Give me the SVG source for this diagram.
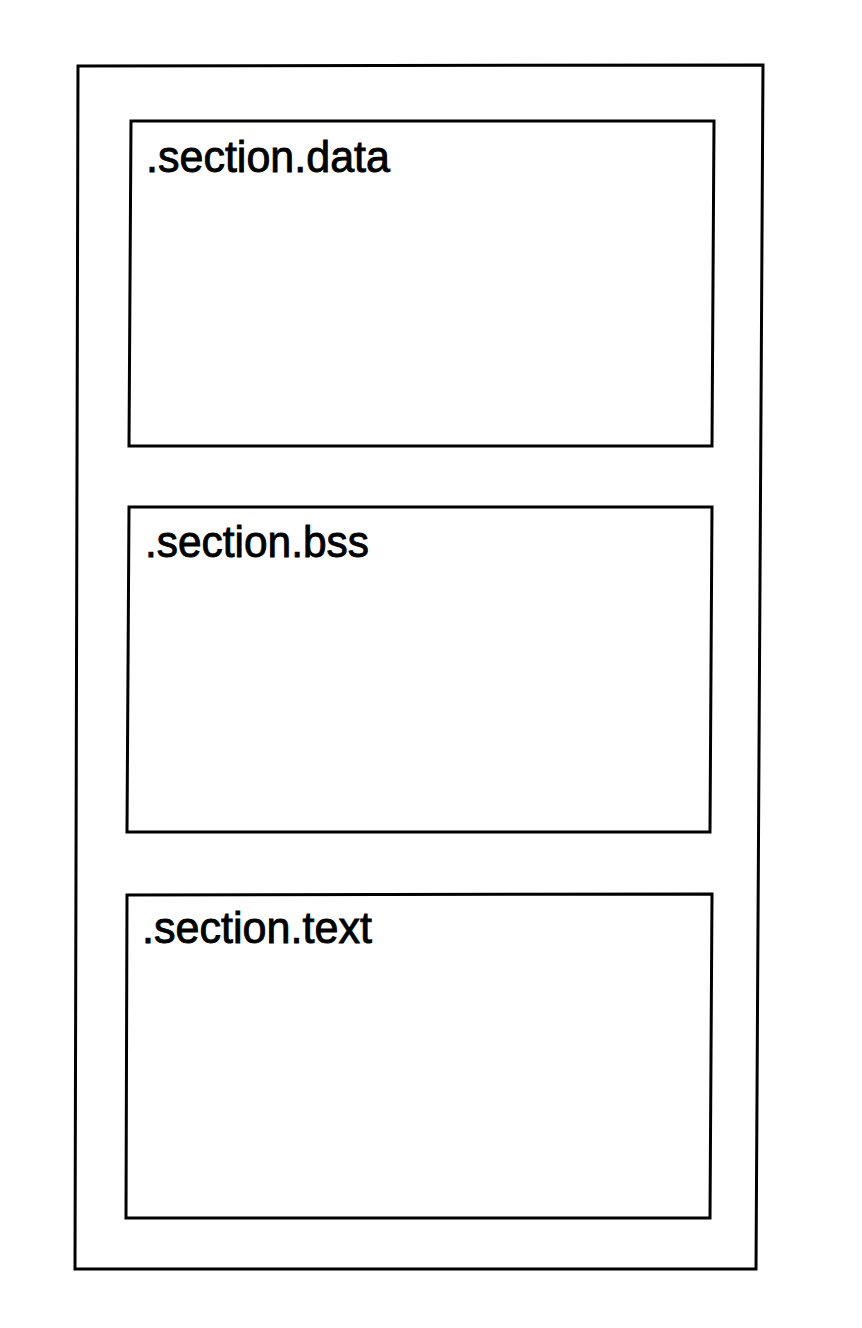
<svg xmlns="http://www.w3.org/2000/svg" width="862" height="1328" viewBox="0 0 862 1328">
<style>
.box{fill:none;stroke:#000;stroke-width:3;stroke-linejoin:miter}
.lbl{font-family:"Liberation Sans",Arial,sans-serif;font-size:45px;fill:#000;stroke:#000;stroke-width:0.9}
</style>
<rect width="862" height="1328" fill="#fff"/>
<g id="outer">
<path class="box" d="M78,66 L763,65 L756,1269 L75,1269 Z"/>
</g>
<g id="data">
<path class="box" d="M131,121 L714,121 L712,446 L129,446 Z"/>
<text class="lbl" x="146" y="172" textLength="244" lengthAdjust="spacingAndGlyphs">.section.data</text>
</g>
<g id="bss">
<path class="box" d="M129,507 L712,507 L710,832 L127,832 Z"/>
<text class="lbl" x="145" y="557" textLength="224" lengthAdjust="spacingAndGlyphs">.section.bss</text>
</g>
<g id="text">
<path class="box" d="M127,895 L712,894 L710,1218 L126,1218 Z"/>
<text class="lbl" x="142" y="943" textLength="230" lengthAdjust="spacingAndGlyphs">.section.text</text>
</g>
<g id="connectors"/>
</svg>
